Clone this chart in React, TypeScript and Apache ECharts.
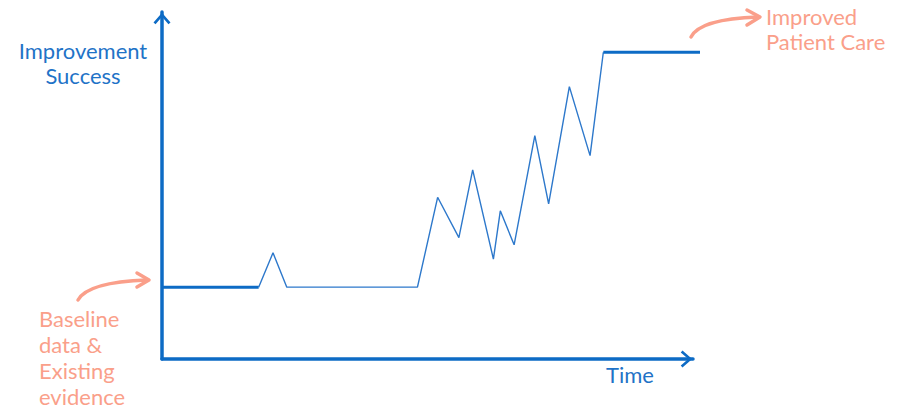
import React, { useEffect, useRef } from "react";
import * as echarts from "echarts";

// Time positions (0 = y axis, 100 = x-axis arrow tip) and success level (0..100)
const baselineTime = [0, 18.2];
const baselineSuccess = [20.7, 20.7];
const journeyTime = [18.2, 20.9, 23.5, 48.1, 51.9, 55.9, 58.5, 62.4, 63.7, 66.3, 70.2, 72.8, 76.7, 80.6, 83.1];
const journeySuccess = [20.7, 30.6, 20.7, 20.7, 46.6, 35.0, 54.5, 28.8, 42.7, 32.9, 64.4, 44.7, 78.5, 58.6, 88.4];
const improvedTime = [83.1, 101.3];
const improvedSuccess = [88.4, 88.4];

const yAxisTitle = "Improvement\nSuccess";
const xAxisTitle = "Time";
const startLabel = "Baseline\ndata &\nExisting\nevidence";
const endLabel = "Improved\nPatient Care";

const BLUE = "#0d6bc5";
const TEXT_BLUE = "#1f73c7";
const SALMON = "#fa9f8a";
const FONT = "Lato";

const pairs = (xs: number[], ys: number[]) => xs.map((x, i) => [x, ys[i]]);

const chevron = "path://M10 0 L20 11.5 L17.6 13.5 L10 4.6 L2.4 13.5 L0 11.5 Z";

export default function App() {
  const ref = useRef<HTMLDivElement>(null);
  useEffect(() => {
    if (!ref.current) return;
    const chart = echarts.init(ref.current, undefined, { renderer: "svg" });
    const axisLine = {
      show: true,
      symbol: ["none", chevron],
      symbolSize: [17, 13],
      symbolOffset: [0, -6.5],
      lineStyle: { color: BLUE, width: 3.5 },
    };
    const hidden = {
      axisLine: { show: false },
      axisTick: { show: false },
      axisLabel: { show: false },
      splitLine: { show: false },
    };
    chart.setOption({
      animation: false,
      grid: [
        // visible axes: 0..100 time units
        { left: 162, right: 205, top: 12, bottom: 52 },
        // data grid: same scale, extended to 101.3 time units
        { left: 162, right: 198, top: 12, bottom: 52 },
      ],
      xAxis: [
        {
          type: "value",
          gridIndex: 0,
          min: 0,
          max: 100,
          axisLine,
          axisTick: { show: false },
          axisLabel: { show: false },
          splitLine: { show: false },
        },
        { type: "value", gridIndex: 1, min: 0, max: 101.3, ...hidden },
      ],
      yAxis: [
        {
          type: "value",
          gridIndex: 0,
          min: 0,
          max: 100,
          axisLine,
          axisTick: { show: false },
          axisLabel: { show: false },
          splitLine: { show: false },
        },
        { type: "value", gridIndex: 1, min: 0, max: 100, ...hidden },
      ],
      series: [
        {
          type: "line",
          xAxisIndex: 1,
          yAxisIndex: 1,
          data: pairs(baselineTime, baselineSuccess),
          symbol: "none",
          clip: false,
          lineStyle: { color: BLUE, width: 3 },
          z: 3,
        },
        {
          type: "line",
          xAxisIndex: 1,
          yAxisIndex: 1,
          data: pairs(journeyTime, journeySuccess),
          symbol: "none",
          clip: false,
          lineStyle: { color: "#2d78cb", width: 1.4 },
          z: 2,
        },
        {
          type: "line",
          xAxisIndex: 1,
          yAxisIndex: 1,
          data: pairs(improvedTime, improvedSuccess),
          symbol: "none",
          clip: false,
          lineStyle: { color: BLUE, width: 3 },
          z: 3,
        },
      ],
      graphic: [
        {
          type: "text",
          x: 83,
          y: 38,
          style: {
            text: yAxisTitle,
            fill: TEXT_BLUE,
            font: `22px ${FONT}`,
            lineHeight: 25,
            align: "center",
            verticalAlign: "top",
          },
        },
        {
          type: "text",
          x: 630,
          y: 362,
          style: {
            text: xAxisTitle,
            fill: TEXT_BLUE,
            font: `22px ${FONT}`,
            lineHeight: 25,
            align: "center",
            verticalAlign: "top",
          },
        },
        {
          type: "text",
          x: 766,
          y: 4,
          style: {
            text: endLabel,
            fill: SALMON,
            font: `22px ${FONT}`,
            lineHeight: 25,
            align: "left",
            verticalAlign: "top",
          },
        },
        {
          type: "text",
          x: 39,
          y: 305,
          style: {
            text: startLabel,
            fill: SALMON,
            font: `22px ${FONT}`,
            lineHeight: 26,
            align: "left",
            verticalAlign: "top",
          },
        },
        {
          type: "bezierCurve",
          shape: { x1: 691, y1: 37, cpx1: 700, cpy1: 19, x2: 758, y2: 17 },
          style: { stroke: SALMON, lineWidth: 3.5, fill: "none", lineCap: "round" },
        },
        {
          type: "polyline",
          shape: { points: [[747, 10], [760, 17], [747, 25]] },
          style: { stroke: SALMON, lineWidth: 3.5, fill: "none", lineCap: "round", lineJoin: "round" },
        },
        {
          type: "bezierCurve",
          shape: { x1: 78, y1: 300, cpx1: 88, cpy1: 282, x2: 147, y2: 280 },
          style: { stroke: SALMON, lineWidth: 3.5, fill: "none", lineCap: "round" },
        },
        {
          type: "polyline",
          shape: { points: [[137, 273], [149, 280], [137, 287]] },
          style: { stroke: SALMON, lineWidth: 3.5, fill: "none", lineCap: "round", lineJoin: "round" },
        },
      ],
    });
    return () => chart.dispose();
  }, []);
  return (
    <div
      ref={ref}
      style={{ position: "absolute", left: 0, top: 0, width: 898, height: 411 }}
    />
  );
}
